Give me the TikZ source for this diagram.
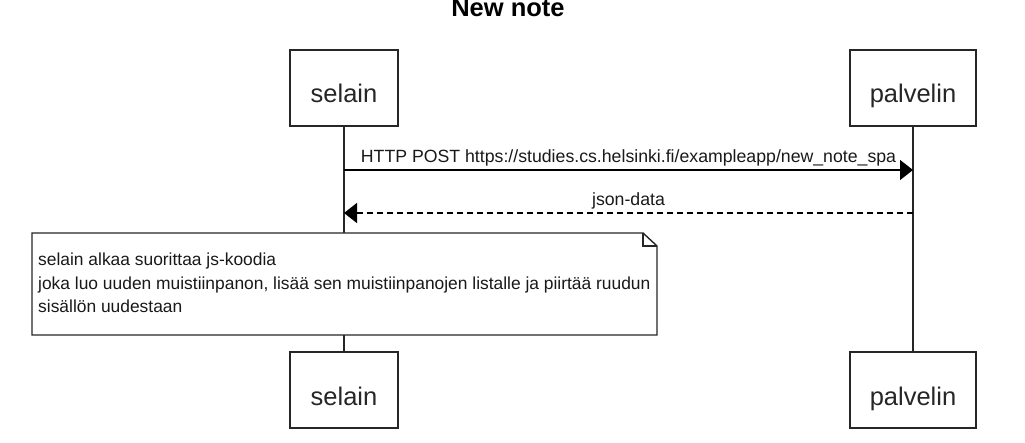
\documentclass[tikz,border=0pt]{standalone}
\usepackage{fontspec}
\setmainfont{Liberation Sans}
\usetikzlibrary{arrows.meta}
\begin{document}
\begin{tikzpicture}[x=1pt,y=-1pt,
  actor/.style={draw=black!85, line width=1.6pt, fill=white, minimum height=76pt,
    inner sep=0pt, text height=30pt, text depth=0pt, font=\fontsize{25.5}{30}\selectfont, text=black!85},
  life/.style={draw=black!85, line width=1.4pt},
  msg/.style={draw=black, line width=1.4pt, -{Triangle[length=13pt,width=20pt]}},
  reply/.style={msg, dash pattern=on 6pt off 4pt},
  lbl/.style={font=\fontsize{17.7}{21}\selectfont, anchor=base, inner sep=0pt, text=black!90},
  notebox/.style={draw=black!85, line width=1.4pt, fill=white},
  notetext/.style={font=\fontsize{17.4}{21}\selectfont, anchor=base west, inner sep=0pt, text=black!90}
]
\useasboundingbox (0,0) rectangle (1025,443);
\node[font=\fontsize{25.5}{30}\selectfont\bfseries, anchor=base, inner sep=0pt] (title) at (508,17) {New note};

\node[actor, minimum width=108pt] (s1) at (344,88) {selain};
\node[actor, minimum width=126pt] (p1) at (913,88) {palvelin};
\node[actor, minimum width=108pt] (s2) at (344,390) {selain};
\node[actor, minimum width=126pt] (p2) at (913,390) {palvelin};

\draw[life] (s1.south) -- (s2.north);
\draw[life] (p1.south) -- (p2.north);

\coordinate (sA) at (344,170);
\coordinate (pA) at (913,170);
\coordinate (sB) at (344,213);
\coordinate (pB) at (913,213);

\draw[msg] (sA) -- (pA) node[lbl, midway, yshift=7pt] {HTTP POST https://studies.cs.helsinki.fi/exampleapp/new\_note\_spa};
\draw[reply] (pB) -- (sB) node[lbl, midway, yshift=7pt] {json-data};

\draw[notebox] (32,233) -- (643,233) -- (657,246) -- (657,335) -- (32,335) -- cycle;
\draw[notebox, fill=none] (643,233) -- (643,246) -- (657,246);
\node[notetext] (n1) at (38,266) {selain alkaa suorittaa js-koodia};
\node[notetext] (n2) at (38,289.5) {joka luo uuden muistiinpanon, lisää sen muistiinpanojen listalle ja piirtää ruudun};
\node[notetext] (n3) at (38,313) {sisällön uudestaan};
\end{tikzpicture}
\end{document}
